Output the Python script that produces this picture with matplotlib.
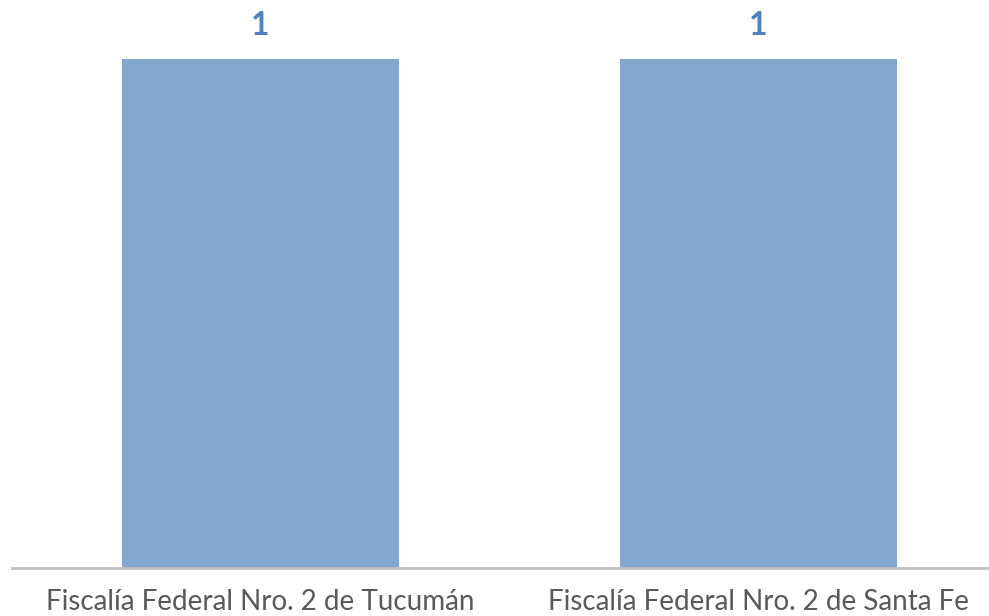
import matplotlib
matplotlib.use("Agg")
import matplotlib.pyplot as plt

# data
categories = ["Fiscalía Federal Nro. 2 de Tucumán", "Fiscalía Federal Nro. 2 de Santa Fe"]
values = [1, 1]

plt.rcParams['font.family'] = ['Lato', 'DejaVu Sans']

fig = plt.figure(figsize=(9.89, 6.16), dpi=100)
ax = fig.add_axes([12 / 989, 48 / 616, 1 - 12 / 989, 1 - 48 / 616])

x = list(range(len(categories)))
bars = ax.bar(x, values, width=0.556, color="#84A7CF", zorder=2)

# value labels above bars
for xi, v in zip(x, values):
    ax.text(xi, v + 0.066, str(v), ha="center", va="center",
            fontsize=23, fontweight="bold", color="#4F81BD")

ax.set_xlim(-0.499, 1.463)
ax.set_ylim(0, 568 / 509)
ax.set_yticks([])
ax.set_xticks(x)
ax.set_xticklabels(categories, fontsize=20, color="#595959", va="baseline")
# baseline just under 42px below the axis line, keeps descent inside the figure
ax.tick_params(axis="x", length=0, pad=42 * 0.72)

for s in ["top", "right", "left"]:
    ax.spines[s].set_visible(False)
ax.spines["bottom"].set_color("#BFBFBF")
ax.spines["bottom"].set_linewidth(2)

fig.savefig("out.png", dpi=100)
